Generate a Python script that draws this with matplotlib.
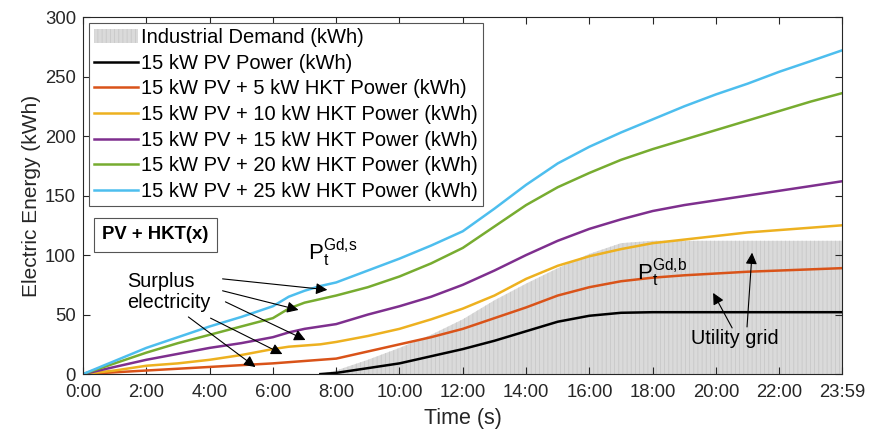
import numpy as np
import matplotlib
matplotlib.use("Agg")
import matplotlib.pyplot as plt

plt.rcParams['font.family'] = ['Liberation Sans', 'DejaVu Sans']
plt.rcParams['hatch.linewidth'] = 0.6

# time of day in hours
hours = [0, 1, 2, 3, 4, 5, 6, 6.5, 7, 7.5, 8, 9, 10, 11, 12, 13, 14, 15, 16,
         17, 18, 19, 20, 21, 22, 23, 23.983]

demand = [0, 0, 0, 0, 0, 0, 0, 0, 0, 0, 3, 12, 22, 33, 46, 62, 76, 89, 101,
          110, 112, 112, 112, 112, 112, 112, 112]
pv15 = [np.nan] * 9 + [0, 1, 5, 9, 15, 21, 28, 36, 44, 49,
                       51.5, 52, 52, 52, 52, 52, 52, 52]
hkt5 = [0, 1.5, 3, 4.5, 6, 7.5, 9, 10, 11, 12, 13, 19, 25, 31, 38, 47, 56, 66,
        73, 78, 81, 83, 84.5, 86, 87, 88, 89]
hkt10 = [0, 3, 7, 9, 12, 16, 21, 23, 24, 25, 27, 32, 38, 46, 55, 66, 80, 91,
         99, 105, 110, 113, 116, 119, 121, 123, 125]
hkt15 = [0, 6, 12, 17, 22, 26, 31, 35, 38, 40, 42, 50, 57, 65, 75, 87, 100,
         112, 122, 130, 137, 142, 146, 150, 154, 158, 162]
hkt20 = [0, 9, 18, 26, 33, 40, 47, 55, 60, 63, 66, 73, 82, 93, 106, 124, 142,
         157, 169, 180, 189, 197, 205, 213, 221, 229, 236]
hkt25 = [0, 11, 22, 31, 40, 48, 57, 65, 70, 74, 77, 87, 97, 108, 120, 139,
         159, 177, 191, 203, 214, 225, 235, 244, 254, 263, 272]

series = [pv15, hkt5, hkt10, hkt15, hkt20, hkt25]
labels = ['15 kW PV Power (kWh)',
          '15 kW PV + 5 kW HKT Power (kWh)',
          '15 kW PV + 10 kW HKT Power (kWh)',
          '15 kW PV + 15 kW HKT Power (kWh)',
          '15 kW PV + 20 kW HKT Power (kWh)',
          '15 kW PV + 25 kW HKT Power (kWh)']
colors = ['#000000', '#D95319', '#EDB120', '#7E2F8E', '#77AC30', '#4DBEEE']

xticks = [0, 2, 4, 6, 8, 10, 12, 14, 16, 18, 20, 22, 23.983]
xticklabels = ['0:00', '2:00', '4:00', '6:00', '8:00', '10:00', '12:00',
               '14:00', '16:00', '18:00', '20:00', '22:00', '23:59']

fig = plt.figure(figsize=(8.69, 4.36), dpi=100)
ax = fig.add_axes([0.0955, 0.142, 0.8735, 0.819])

ax.fill_between(hours, 0, demand, facecolor='#dadada', edgecolor='#c8c8c8',
                hatch='||||', linewidth=0, label='Industrial Demand (kWh)')
for y, lab, c in zip(series, labels, colors):
    ax.plot(hours, y, color=c, lw=1.8, label=lab)

ax.set_xlim(0, 23.983)
ax.set_ylim(0, 300)
ax.set_xticks(xticks)
ax.set_xticklabels(xticklabels)
ax.set_yticks([0, 50, 100, 150, 200, 250, 300])
ax.tick_params(direction='in', length=5, top=True, right=True,
               labelsize=13.3, colors='#262626')
ax.tick_params(axis='x', pad=7)
ax.tick_params(axis='y', pad=5)
for s in ax.spines.values():
    s.set_color('#262626')
    s.set_linewidth(0.8)
ax.set_xlabel('Time (s)', fontsize=15.5, color='#262626', labelpad=5)
ax.set_ylabel('Electric Energy (kWh)', fontsize=15, color='#262626', labelpad=3)

leg = ax.legend(loc='upper left', fontsize=14.5, frameon=True, fancybox=False,
                edgecolor='#555555', framealpha=1, handlelength=2.2,
                handletextpad=0.15, labelspacing=0.33, borderpad=0.25,
                borderaxespad=0.3)
leg.get_frame().set_linewidth(0.8)

ax.text(2.29, 117, 'PV + HKT(x)', fontsize=13.3, fontweight='bold',
        ha='center', va='center',
        bbox=dict(boxstyle='square,pad=0.45', fc='white', ec='#555555', lw=0.8))

ax.text(7.1, 96, r'$\mathregular{P_t^{Gd{,}s}}$', fontsize=16, va='baseline')
ax.text(17.5, 79, r'$\mathregular{P_t^{Gd{,}b}}$', fontsize=16, va='baseline')

ax.text(1.41, 69, 'Surplus\nelectricity', fontsize=14.3, ha='left',
        va='center', linespacing=1.15)
ax.text(20.6, 30, 'Utility grid', fontsize=14.3, ha='center', va='center')

arrow = dict(arrowstyle='-|>', color='black', lw=0.8, mutation_scale=17,
             shrinkA=0, shrinkB=0)
surplus_arrows = [((4.41, 80), (7.72, 70.8)),
                  ((4.41, 70), (6.81, 53.9)),
                  ((4.50, 60.7), (7.03, 28.6)),
                  ((4.03, 47), (6.30, 16.8)),
                  ((3.33, 48), (5.45, 5.9))]
grid_arrows = [((20.51, 38.8), (19.91, 68.2)),
               ((20.98, 39.6), (21.14, 102))]
for start, end in surplus_arrows + grid_arrows:
    ax.annotate('', xy=end, xytext=start, arrowprops=arrow)

fig.savefig('out.png', dpi=100)
